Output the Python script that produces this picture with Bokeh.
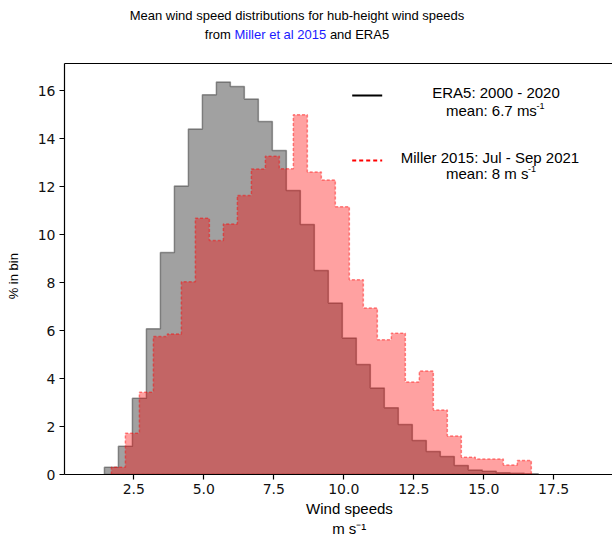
import numpy as np
from bokeh.plotting import figure
from bokeh.layouts import column
from bokeh.models import (Range1d, FixedTicker, NumeralTickFormatter, LinearAxis,
                          Label, Arrow, Title, Div)
from bokeh.embed import file_html
from bokeh.resources import INLINE

# ---------------- data ----------------
bin_width = 0.5
era5_first_edge = 1.45
era5_pct = [0.30, 1.18, 3.18, 6.07, 9.25, 12.02, 14.40, 15.82, 16.35, 16.17,
            15.65, 14.71, 13.50, 11.83, 10.42, 8.50, 7.15, 5.69, 4.58, 3.60,
            2.78, 2.08, 1.42, 0.96, 0.75, 0.375, 0.19, 0.14, 0.07, 0.05, 0.03]
miller_first_edge = 1.70
miller_pct = [0.30, 1.72, 3.43, 5.75, 5.85, 8.03, 10.68, 9.75, 10.44, 11.63,
              12.73, 13.26, 12.74, 14.99, 12.60, 12.27, 11.16, 8.11, 6.94, 5.61,
              5.89, 3.85, 4.31, 2.69, 1.60, 0.72, 0.65, 0.65, 0.40, 0.58]
x_ticks = [2.5, 5.0, 7.5, 10.0, 12.5, 15.0, 17.5]
y_ticks = [0, 2, 4, 6, 8, 10, 12, 14, 16]

title_line1 = "Mean wind speed distributions for hub-height wind speeds"
title_from = "from"
title_link = "Miller et al 2015"
title_and = "and ERA5"
era5_label = "ERA5: 2000 - 2020"
era5_mean = "mean: 6.7 ms"
miller_label = "Miller 2015: Jul - Sep 2021"
miller_mean = "mean: 8 m s"
x_label = "Wind speeds"
x_unit = "m s\u207b\u00b9"
y_label = "% in bin"
sup = "-1"

FONT = "Liberation Sans"


def step_outline(first_edge, vals):
    vals = np.asarray(vals, dtype=float)
    edges = first_edge + bin_width * np.arange(len(vals) + 1)
    xs = np.repeat(edges, 2)
    ys = np.concatenate([[0.0], np.repeat(vals, 2), [0.0]])
    return xs, ys


DIV_H = 44
DIV_W = 594
title_html = (f'{title_line1}<br>{title_from} '
              f'<span style="color:#1a1aff">{title_link}</span> {title_and}')
title_div = Div(text=title_html, width=DIV_W, height=DIV_H, margin=0,
                styles={"font-family": FONT, "font-size": "13px",
                        "line-height": "19px", "text-align": "center",
                        "color": "black", "padding-top": "6px",
                        "box-sizing": "border-box", "width": f"{DIV_W}px"})

p = figure(width=612, height=536 - DIV_H, x_range=Range1d(0.025, 19.6),
           y_range=Range1d(0, 17.125), output_backend="svg",
           toolbar_location=None, min_border_left=64, min_border_right=0,
           min_border_top=63 - DIV_H, min_border_bottom=62, margin=0)
p.grid.visible = False
p.outline_line_color = None
p.background_fill_color = "white"
p.border_fill_color = "white"

ex, ey = step_outline(era5_first_edge, era5_pct)
p.patch(ex, ey, fill_color="black", fill_alpha=0.37,
        line_color="black", line_alpha=0.37, line_width=1.5)
mx, my = step_outline(miller_first_edge, miller_pct)
p.patch(mx, my, fill_color="red", fill_alpha=0.37,
        line_color="red", line_alpha=0.45, line_width=1.5, line_dash="3 2")

# axes
p.xaxis.ticker = FixedTicker(ticks=x_ticks)
p.xaxis.formatter = NumeralTickFormatter(format="0.0")
p.yaxis.ticker = FixedTicker(ticks=y_ticks)
for ax in (p.xaxis, p.yaxis):
    ax.minor_tick_line_color = None
    ax.major_tick_out = 5
    ax.major_tick_in = 0
    ax.major_tick_line_color = "black"
    ax.major_tick_line_width = 1.2
    ax.axis_line_color = "black"
    ax.axis_line_width = 1.2
    ax.major_label_text_font = "DejaVu Sans"
    ax.major_label_text_font_size = "14px"
    ax.major_label_text_color = "#111111"
    ax.major_label_standoff = 4

# trailing no-break spaces nudge the centred label slightly downward
p.yaxis.axis_label = y_label + "\u00a0" * 4
p.yaxis.axis_label_text_font = FONT
p.yaxis.axis_label_text_font_size = "13px"
p.yaxis.axis_label_text_font_style = "normal"
p.yaxis.axis_label_text_color = "black"
p.yaxis.axis_label_standoff = 14

top_axis = LinearAxis(ticker=FixedTicker(ticks=[]), major_label_text_font_size="0px",
                      axis_line_color="black", axis_line_width=1.2,
                      major_tick_line_color=None, minor_tick_line_color=None)
p.add_layout(top_axis, "above")

p.add_layout(Title(text=x_label, align="left", offset=241.6, text_font=FONT,
                   text_font_size="15px", text_font_style="normal",
                   text_color="black", standoff=2), "below")
p.add_layout(Title(text=x_unit, align="left", offset=267.7, text_font=FONT,
                   text_font_size="15px", text_font_style="normal",
                   text_color="black", standoff=0), "below")


def lab(text, x, y, size, align="left", color="black"):
    p.add_layout(Label(x=x, y=y, x_units="screen", y_units="screen", text=text,
                       text_font=FONT, text_font_size=size, text_align=align,
                       text_baseline="alphabetic", text_color=color))


# legend (frame-relative screen coordinates)
p.add_layout(Arrow(end=None, x_start=287.7, y_start=379, x_end=317.7, y_end=379,
                   start_units="screen", end_units="screen",
                   line_color="black", line_width=2))
p.add_layout(Arrow(end=None, x_start=287.7, y_start=314, x_end=317.7, y_end=314,
                   start_units="screen", end_units="screen",
                   line_color="red", line_width=2, line_dash="4 3"))
lab(era5_label, 431.5, 381.7, "15px", align="center")
lab(era5_mean, 381.5, 364, "15px")
lab(sup, 472.0, 369, "9px")
lab(miller_label, 425.5, 317.3, "15px", align="center")
lab(miller_mean, 381.5, 300.7, "15px")
lab(sup, 463.5, 305.7, "9px")

layout = column(title_div, p, spacing=0)
open("out.html", "w").write(file_html(layout, INLINE))
